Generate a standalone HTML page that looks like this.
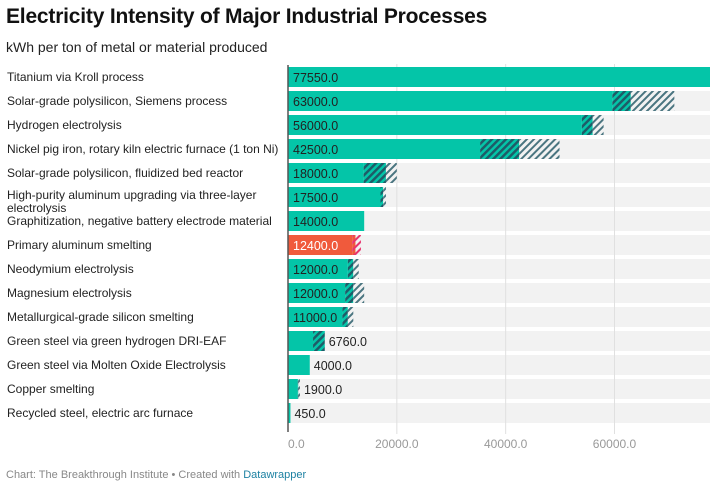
<!DOCTYPE html>
<html><head><meta charset="utf-8">
<style>
body{margin:0;background:#fff;font-family:"Liberation Sans",sans-serif;}
#wrap{position:relative;width:724px;height:485px;overflow:hidden;}
.t{position:absolute;white-space:nowrap;}
</style></head><body>
<div id="wrap">
<div class="t" style="left:6px;top:5px;font-size:21px;font-weight:bold;color:#111;letter-spacing:-0.2px">Electricity Intensity of Major Industrial Processes</div>
<div class="t" style="left:6px;top:39px;font-size:14px;color:#222">kWh per ton of metal or material produced</div>
<svg id="chart" width="724" height="485" style="position:absolute;left:0;top:0">
<defs>
<pattern id="hd" width="5" height="5" patternUnits="userSpaceOnUse" patternTransform="rotate(45)"><rect width="5" height="5" fill="#04c5a8"/><rect width="2.5" height="5" fill="#1e5c68"/></pattern>
<pattern id="hl" width="5" height="5" patternUnits="userSpaceOnUse" patternTransform="rotate(45)"><rect width="5" height="5" fill="#f2f2f2"/><rect width="2" height="5" fill="#4a7580"/></pattern>
<pattern id="hr" width="5" height="5" patternUnits="userSpaceOnUse" patternTransform="rotate(45)"><rect width="5" height="5" fill="#f05a3c"/><rect width="2" height="5" fill="#e8336e"/></pattern>
<pattern id="hrl" width="5" height="5" patternUnits="userSpaceOnUse" patternTransform="rotate(45)"><rect width="5" height="5" fill="#f2f2f2"/><rect width="2" height="5" fill="#e8336e"/></pattern>
</defs>
</svg>
<div class="t" style="left:6px;top:469px;font-size:11px;color:#888">Chart: The Breakthrough Institute • Created with <span style="color:#1d81a2">Datawrapper</span></div>
</div>
<script>
const categories=["Titanium via Kroll process","Solar-grade polysilicon, Siemens process","Hydrogen electrolysis","Nickel pig iron, rotary kiln electric furnace (1 ton Ni)","Solar-grade polysilicon, fluidized bed reactor","High-purity aluminum upgrading via three-layer|electrolysis","Graphitization, negative battery electrode material","Primary aluminum smelting","Neodymium electrolysis","Magnesium electrolysis","Metallurgical-grade silicon smelting","Green steel via green hydrogen DRI-EAF","Green steel via Molten Oxide Electrolysis","Copper smelting","Recycled steel, electric arc furnace"];
const values=[77550,63000,56000,42500,18000,17500,14000,12400,12000,12000,11000,6760,4000,1900,450];
const lows=[77550,59600,54000,35300,13900,17000,14000,11800,11000,10500,10000,4600,4000,1800,450];
const highs=[77550,71000,58000,49900,20000,18000,14000,13400,13000,14000,12000,6760,4000,2200,450];
const ticks=[0,20000,40000,60000];
const highlight=7;
const NS="http://www.w3.org/2000/svg",svg=document.getElementById("chart");
const x0=288,x1=710,xmax=77550;
const X=v=>x0+v/xmax*(x1-x0);
const Y=i=>67+i*24;
function mk(tag,attrs,parent){const e=document.createElementNS(NS,tag);for(const k in attrs)e.setAttribute(k,attrs[k]);(parent||svg).appendChild(e);return e;}
categories.forEach((c,i)=>{
 const bg=mk("rect",{x:x0,y:Y(i),width:x1-x0,height:20,fill:"#f2f2f2"});
 
 
});
ticks.forEach(t=>{
 if(t>0){const g=mk("line",{x1:X(t),x2:X(t),y1:64,y2:434,stroke:"#e0e0e0","stroke-width":1});
 
 }
 const tl=mk("text",{x:X(t),y:448,"font-size":12,fill:"#999","text-anchor":t==0?"start":"middle","font-family":"Liberation Sans, sans-serif"});
 tl.textContent=t.toFixed(1);
 
 
});
categories.forEach((c,i)=>{
 const y=Y(i),red=i===highlight;
 const lab=mk("text",{x:7,"font-size":12,fill:"#222","font-family":"Liberation Sans, sans-serif"});
 
 
 const parts=c.split("|");
 if(parts.length>1){
  parts.forEach((p,k)=>{const ts=mk("tspan",{x:7,y:y+12+k*13},lab);ts.textContent=p;});}
 else{lab.setAttribute("y",y+14);lab.textContent=c;}
 const b=mk("rect",{x:x0,y:y,width:X(lows[i])-x0,height:20,fill:red?"#f05a3c":"#04c5a8"});
 
 
 if(values[i]>lows[i]){const h=mk("rect",{x:X(lows[i]),y:y,width:X(values[i])-X(lows[i]),height:20,fill:red?"url(#hr)":"url(#hd)"});
  
  }
 if(highs[i]>values[i]){const h=mk("rect",{x:X(values[i]),y:y,width:X(highs[i])-X(values[i]),height:20,fill:red?"url(#hrl)":"url(#hl)"});
  
  }
 const end=X(Math.max(values[i],highs[i]));
 const inside=X(values[i])-x0>45;
 const vl=mk("text",{x:inside?x0+5:end+4,y:y+15,"font-size":12.5,fill:red?"#fff":"#222","font-family":"Liberation Sans, sans-serif"});
 vl.textContent=values[i].toFixed(1);
 
 
});
const ax=mk("line",{x1:x0,x2:x0,y1:65,y2:432,stroke:"#555","stroke-width":1.5});


</script>
</body></html>
